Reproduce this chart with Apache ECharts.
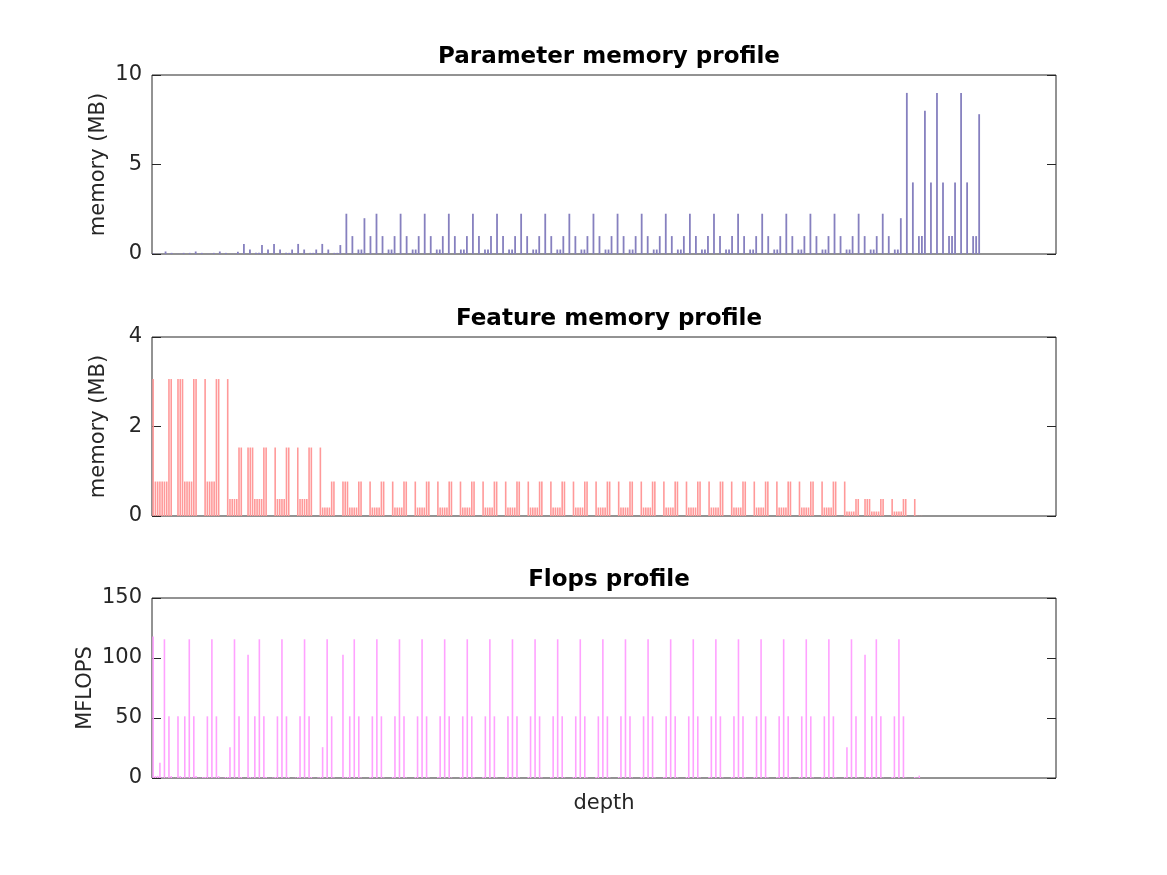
<!DOCTYPE html>
<html>
<head>
<meta charset="utf-8">
<title>Profiles</title>
<script src="https://cdn.jsdelivr.net/npm/echarts@6/dist/echarts.min.js"></script>
<style>
  html, body { margin: 0; padding: 0; background: #fff; }
  #chart { width: 1167px; height: 875px; }
</style>
</head>
<body>
<div id="chart"></div>
<script>
// values per depth (one row per residual block)

// parameter memory (MB)
var paramStem = [0.036, 0];
var paramConv2 = [
  0.016, 0, 0.141, 0, 0.063, 0, 0.016, 0.016, 0.063, 0,
  0.063, 0, 0.141, 0, 0.063, 0, 0.016, 0.016,
  0.063, 0, 0.141, 0, 0.063, 0, 0.016, 0.016
];
var paramConv3 = [
  0.125, 0, 0.563, 0, 0.25, 0, 0.063, 0.063, 0.5, 0,
  0.25, 0, 0.563, 0, 0.25, 0, 0.063, 0.063,
  0.25, 0, 0.563, 0, 0.25, 0, 0.063, 0.063,
  0.25, 0, 0.563, 0, 0.25, 0, 0.063, 0.063
];
var paramConv4 = [
  0.5, 0, 2.25, 0, 1, 0, 0.25, 0.25, 2, 0,
  1, 0, 2.25, 0, 1, 0, 0.25, 0.25,
  1, 0, 2.25, 0, 1, 0, 0.25, 0.25,
  1, 0, 2.25, 0, 1, 0, 0.25, 0.25,
  1, 0, 2.25, 0, 1, 0, 0.25, 0.25,
  1, 0, 2.25, 0, 1, 0, 0.25, 0.25,
  1, 0, 2.25, 0, 1, 0, 0.25, 0.25,
  1, 0, 2.25, 0, 1, 0, 0.25, 0.25,
  1, 0, 2.25, 0, 1, 0, 0.25, 0.25,
  1, 0, 2.25, 0, 1, 0, 0.25, 0.25,
  1, 0, 2.25, 0, 1, 0, 0.25, 0.25,
  1, 0, 2.25, 0, 1, 0, 0.25, 0.25,
  1, 0, 2.25, 0, 1, 0, 0.25, 0.25,
  1, 0, 2.25, 0, 1, 0, 0.25, 0.25,
  1, 0, 2.25, 0, 1, 0, 0.25, 0.25,
  1, 0, 2.25, 0, 1, 0, 0.25, 0.25,
  1, 0, 2.25, 0, 1, 0, 0.25, 0.25,
  1, 0, 2.25, 0, 1, 0, 0.25, 0.25,
  1, 0, 2.25, 0, 1, 0, 0.25, 0.25,
  1, 0, 2.25, 0, 1, 0, 0.25, 0.25,
  1, 0, 2.25, 0, 1, 0, 0.25, 0.25,
  1, 0, 2.25, 0, 1, 0, 0.25, 0.25,
  1, 0, 2.25, 0, 1, 0, 0.25, 0.25
];
var paramConv5 = [
  2, 0, 9, 0, 4, 0, 1, 1, 8, 0,
  4, 0, 9, 0, 4, 0, 1, 1,
  4, 0, 9, 0, 4, 0, 1, 1
];
var paramHead = [7.81];

// feature memory (MB)
var featStem = [3.06, 0.77, 0.77];
var featConv2 = [
  0.77, 0.77, 0.77, 0.77, 3.06, 3.06, 0, 0, 3.06, 3.06, 3.06,
  0.77, 0.77, 0.77, 0.77, 3.06, 3.06, 0, 0, 0, 3.06,
  0.77, 0.77, 0.77, 0.77, 3.06, 3.06, 0, 0, 0, 3.06
];
var featConv3 = [
  0.38, 0.38, 0.38, 0.38, 1.53, 1.53, 0, 0, 1.53, 1.53, 1.53,
  0.38, 0.38, 0.38, 0.38, 1.53, 1.53, 0, 0, 0, 1.53,
  0.38, 0.38, 0.38, 0.38, 1.53, 1.53, 0, 0, 0, 1.53,
  0.38, 0.38, 0.38, 0.38, 1.53, 1.53, 0, 0, 0, 1.53
];
var featConv4 = [
  0.19, 0.19, 0.19, 0.19, 0.77, 0.77, 0, 0, 0, 0.77, 0.77, 0.77,
  0.19, 0.19, 0.19, 0.19, 0.77, 0.77, 0, 0, 0, 0.77,
  0.19, 0.19, 0.19, 0.19, 0.77, 0.77, 0, 0, 0, 0.77,
  0.19, 0.19, 0.19, 0.19, 0.77, 0.77, 0, 0, 0, 0.77,
  0.19, 0.19, 0.19, 0.19, 0.77, 0.77, 0, 0, 0, 0.77,
  0.19, 0.19, 0.19, 0.19, 0.77, 0.77, 0, 0, 0, 0.77,
  0.19, 0.19, 0.19, 0.19, 0.77, 0.77, 0, 0, 0, 0.77,
  0.19, 0.19, 0.19, 0.19, 0.77, 0.77, 0, 0, 0, 0.77,
  0.19, 0.19, 0.19, 0.19, 0.77, 0.77, 0, 0, 0, 0.77,
  0.19, 0.19, 0.19, 0.19, 0.77, 0.77, 0, 0, 0, 0.77,
  0.19, 0.19, 0.19, 0.19, 0.77, 0.77, 0, 0, 0, 0.77,
  0.19, 0.19, 0.19, 0.19, 0.77, 0.77, 0, 0, 0, 0.77,
  0.19, 0.19, 0.19, 0.19, 0.77, 0.77, 0, 0, 0, 0.77,
  0.19, 0.19, 0.19, 0.19, 0.77, 0.77, 0, 0, 0, 0.77,
  0.19, 0.19, 0.19, 0.19, 0.77, 0.77, 0, 0, 0, 0.77,
  0.19, 0.19, 0.19, 0.19, 0.77, 0.77, 0, 0, 0, 0.77,
  0.19, 0.19, 0.19, 0.19, 0.77, 0.77, 0, 0, 0, 0.77,
  0.19, 0.19, 0.19, 0.19, 0.77, 0.77, 0, 0, 0, 0.77,
  0.19, 0.19, 0.19, 0.19, 0.77, 0.77, 0, 0, 0, 0.77,
  0.19, 0.19, 0.19, 0.19, 0.77, 0.77, 0, 0, 0, 0.77,
  0.19, 0.19, 0.19, 0.19, 0.77, 0.77, 0, 0, 0, 0.77,
  0.19, 0.19, 0.19, 0.19, 0.77, 0.77, 0, 0, 0, 0.77,
  0.19, 0.19, 0.19, 0.19, 0.77, 0.77, 0, 0, 0, 0.77
];
var featConv5 = [
  0.1, 0.1, 0.1, 0.1, 0.38, 0.38, 0, 0, 0.38, 0.38, 0.38,
  0.1, 0.1, 0.1, 0.1, 0.38, 0.38, 0, 0, 0, 0.38,
  0.1, 0.1, 0.1, 0.1, 0.38, 0.38, 0, 0, 0, 0.38
];
var featHead = [0.008, 0.004, 0.004];

// MFLOPS
var flopStem = [118, 1.6, 1.8];
var flopConv2 = [
  12.8, 0.4, 115.6, 0.4, 51.4, 1.6, 0.2, 0.2, 51.4, 1.6, 0.8,
  51.4, 0.4, 115.6, 0.4, 51.4, 1.6, 0.2, 0.2, 0.8, 0.8,
  51.4, 0.4, 115.6, 0.4, 51.4, 1.6, 0.2, 0.2, 0.8, 0.8
];
var flopConv3 = [
  25.7, 0.2, 115.6, 0.2, 51.4, 0.8, 0.1, 0.1, 102.8, 0.8, 0.4,
  51.4, 0.2, 115.6, 0.2, 51.4, 0.8, 0.1, 0.1, 0.4, 0.8,
  51.4, 0.2, 115.6, 0.2, 51.4, 0.8, 0.1, 0.1, 0.4, 0.8,
  51.4, 0.2, 115.6, 0.2, 51.4, 0.8, 0.1, 0.1, 0.4, 0.8
];
var flopConv4 = [
  25.7, 0.1, 115.6, 0.1, 51.4, 0.4, 0, 0, 0, 102.8, 0.4, 0.8,
  51.4, 0.1, 115.6, 0.1, 51.4, 0.4, 0, 0, 0, 0.8,
  51.4, 0.1, 115.6, 0.1, 51.4, 0.4, 0, 0, 0, 0.8,
  51.4, 0.1, 115.6, 0.1, 51.4, 0.4, 0, 0, 0, 0.8,
  51.4, 0.1, 115.6, 0.1, 51.4, 0.4, 0, 0, 0, 0.8,
  51.4, 0.1, 115.6, 0.1, 51.4, 0.4, 0, 0, 0, 0.8,
  51.4, 0.1, 115.6, 0.1, 51.4, 0.4, 0, 0, 0, 0.8,
  51.4, 0.1, 115.6, 0.1, 51.4, 0.4, 0, 0, 0, 0.8,
  51.4, 0.1, 115.6, 0.1, 51.4, 0.4, 0, 0, 0, 0.8,
  51.4, 0.1, 115.6, 0.1, 51.4, 0.4, 0, 0, 0, 0.8,
  51.4, 0.1, 115.6, 0.1, 51.4, 0.4, 0, 0, 0, 0.8,
  51.4, 0.1, 115.6, 0.1, 51.4, 0.4, 0, 0, 0, 0.8,
  51.4, 0.1, 115.6, 0.1, 51.4, 0.4, 0, 0, 0, 0.8,
  51.4, 0.1, 115.6, 0.1, 51.4, 0.4, 0, 0, 0, 0.8,
  51.4, 0.1, 115.6, 0.1, 51.4, 0.4, 0, 0, 0, 0.8,
  51.4, 0.1, 115.6, 0.1, 51.4, 0.4, 0, 0, 0, 0.8,
  51.4, 0.1, 115.6, 0.1, 51.4, 0.4, 0, 0, 0, 0.8,
  51.4, 0.1, 115.6, 0.1, 51.4, 0.4, 0, 0, 0, 0.8,
  51.4, 0.1, 115.6, 0.1, 51.4, 0.4, 0, 0, 0, 0.8,
  51.4, 0.1, 115.6, 0.1, 51.4, 0.4, 0, 0, 0, 0.8,
  51.4, 0.1, 115.6, 0.1, 51.4, 0.4, 0, 0, 0, 0.8,
  51.4, 0.1, 115.6, 0.1, 51.4, 0.4, 0, 0, 0, 0.8,
  51.4, 0.1, 115.6, 0.1, 51.4, 0.4, 0, 0, 0, 0.8
];
var flopConv5 = [
  25.7, 0, 115.6, 0, 51.4, 0.2, 0, 0, 102.8, 0.2, 0.8,
  51.4, 0, 115.6, 0, 51.4, 0.2, 0, 0, 0, 0.8,
  51.4, 0, 115.6, 0, 51.4, 0.2, 0, 0, 0, 0.8
];
var flopHead = [0.4, 2.0, 0];

var titles = ['Parameter memory profile', 'Feature memory profile', 'Flops profile'];
var yNames = ['memory (MB)', 'memory (MB)', 'MFLOPS'];
var yNameGap = [43, 43, 56];
var yMax = [10, 4, 150];
var yStep = [5, 2, 50];
var xMax = [300.5, 400.5, 400.5];
var colors = ['#8680bf', '#ff9999', '#ffa2ff'];

function byDepth(stages) {
  var out = [];
  var d = 1;
  stages.forEach(function (arr) {
    arr.forEach(function (v) {
      if (v > 0) out.push([d, v]);
      d++;
    });
  });
  return out;
}

var seriesData = [
  byDepth([paramStem, paramConv2, paramConv3, paramConv4, paramConv5, paramHead]),
  byDepth([featStem, featConv2, featConv3, featConv4, featConv5, featHead]),
  byDepth([flopStem, flopConv2, flopConv3, flopConv4, flopConv5, flopHead])
];

var FONT = 'DejaVu Sans';
var INK = '#262626';
var grids = [
  {left: 152, top: 75, width: 904, height: 179},
  {left: 152, top: 337, width: 904, height: 179},
  {left: 152, top: 598, width: 904, height: 180}
];

var option = {
  animation: false,
  backgroundColor: '#ffffff',
  title: [],
  grid: [],
  xAxis: [],
  yAxis: [],
  series: []
};

for (var k = 0; k < 3; k++) {
  var g = grids[k];
  option.grid.push({
    left: g.left, top: g.top, width: g.width, height: g.height,
    show: true, borderColor: INK, borderWidth: 1, backgroundColor: '#fff'
  });
  option.title.push({
    text: titles[k],
    left: g.left + g.width / 2,
    top: g.top - 34,
    textAlign: 'center',
    textStyle: {fontFamily: FONT, fontSize: 23, fontWeight: 'bold', color: '#000'}
  });
  option.xAxis.push({
    type: 'value', gridIndex: k, min: 0.5, max: xMax[k],
    axisLine: {show: false}, axisTick: {show: false},
    axisLabel: {show: false}, splitLine: {show: false},
    name: k === 2 ? 'depth' : '',
    nameLocation: 'middle', nameGap: 15,
    nameTextStyle: {fontFamily: FONT, fontSize: 21, color: INK, verticalAlign: 'top'}
  });
  option.yAxis.push({
    type: 'value', gridIndex: k, min: 0, max: yMax[k], interval: yStep[k],
    position: 'left',
    axisLine: {show: false},
    axisTick: {show: true, inside: true, length: 9, lineStyle: {color: INK}},
    axisLabel: {fontFamily: FONT, fontSize: 21, color: INK, margin: 10},
    splitLine: {show: false},
    name: yNames[k], nameLocation: 'middle', nameRotate: 90, nameGap: yNameGap[k],
    nameMoveOverlap: false,
    nameTextStyle: {fontFamily: FONT, fontSize: 21, color: INK}
  });
  option.yAxis.push({
    type: 'value', gridIndex: k, min: 0, max: yMax[k], interval: yStep[k],
    position: 'right',
    axisLine: {show: false},
    axisTick: {show: true, inside: true, length: 9, lineStyle: {color: INK}},
    axisLabel: {show: false}, splitLine: {show: false}
  });
  option.series.push({
    type: 'bar',
    xAxisIndex: k,
    yAxisIndex: 2 * k,
    data: seriesData[k],
    barWidth: k === 0 ? 1.8 : 1.6,
    itemStyle: {color: colors[k]},
    silent: true
  });
}

var chart = echarts.init(document.getElementById('chart'), null, {renderer: 'canvas'});
chart.setOption(option);
</script>
</body>
</html>
